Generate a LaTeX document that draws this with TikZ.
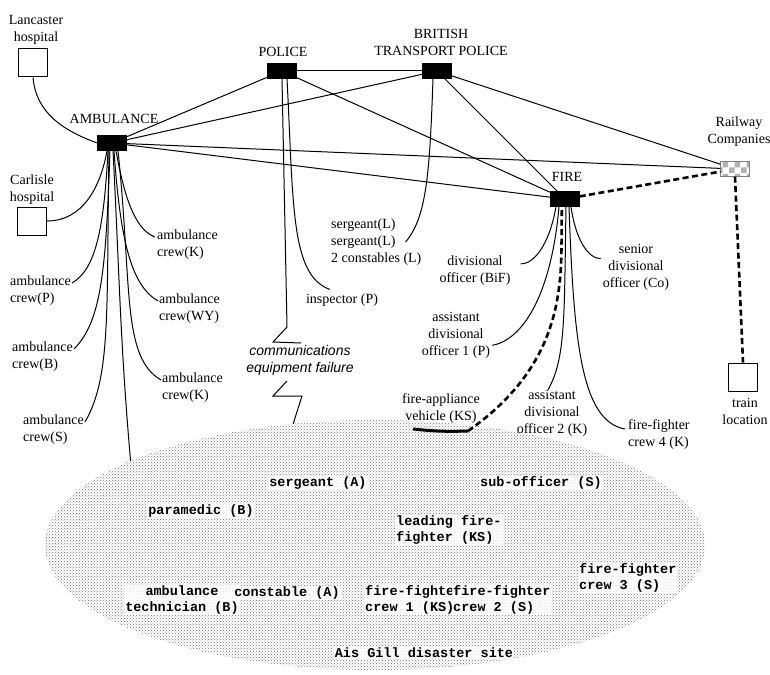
\documentclass[tikz,border=0pt]{standalone}
\usepackage{fontspec}
\setmainfont{Liberation Serif}
\setsansfont{Liberation Sans}
\setmonofont{Liberation Mono}
\usetikzlibrary{patterns,shapes.geometric}

\tikzset{
  agency/.style={draw=black, fill=black, minimum width=29pt, minimum height=15pt, inner sep=0pt},
  place/.style={draw=black, line width=1pt, fill=white, minimum width=29pt, minimum height=28pt, inner sep=0pt},
  lbl/.style={inner sep=0pt, align=center, font=\fontsize{14}{17}\selectfont},
  crew/.style={lbl, align=left, anchor=west},
  sitelbl/.style={inner sep=1pt, align=left, fill=white, fill opacity=0.8, text opacity=1,
    font=\fontsize{13.5}{15.5}\selectfont\ttfamily\bfseries},
  link/.style={line width=1pt},
  hook/.style={link, out looseness=1.5, in looseness=0.5},
  dashlink/.style={line width=2.6pt, dash pattern=on 6pt off 3.5pt},
}

\begin{document}
\begin{tikzpicture}[x=1pt,y=-1pt]
  \useasboundingbox (0,0) rectangle (770,674);

  % disaster site
  \node[ellipse, minimum width=660pt, minimum height=250pt, inner sep=0pt,
        pattern=crosshatch dots, pattern color=black!55] (site) at (375,545) {};

  \node[sitelbl] (sgtA)   at (318,483) {sergeant (A)};
  \node[sitelbl] (subS)   at (541,483) {sub-officer (S)};
  \node[sitelbl] (paraB)  at (201,511) {paramedic (B)};
  \node[sitelbl, anchor=west] (leadKS) at (395,530) {leading fire-\\fighter (KS)};
  \node[sitelbl, anchor=west] (crew3S) at (578,578) {fire-fighter\\crew 3 (S)};
  \node[sitelbl, align=center] (techB) at (182,600) {ambulance\\technician (B)};
  \node[sitelbl] (constA) at (287,593) {constable (A)};
  \node[sitelbl, anchor=west] (crew1KS) at (364,600) {fire-fighter\\crew 1 (KS)};
  \node[sitelbl, anchor=west] (crew2S) at (452,600) {fire-fighter\\crew 2 (S)};
  \node[sitelbl] (aisgill) at (424,653) {Ais Gill disaster site};

  % agencies and places
  \node[place]  (lanc) at (33,63) {};
  \node[lbl]    (lanclbl) at (36,30) {Lancaster\\hospital};
  \node[place]  (carl) at (32,221) {};
  \node[lbl]    (carllbl) at (32,190) {Carlisle\\hospital};
  \node[agency] (amb) at (112,143) {};
  \node[lbl]    (amblbl) at (114,119) {AMBULANCE};
  \node[agency] (pol) at (282,71) {};
  \node[lbl]    (pollbl) at (283,52) {POLICE};
  \node[agency] (btp) at (437,71) {};
  \node[lbl]    (btplbl) at (441,42) {BRITISH\\TRANSPORT POLICE};
  \node[agency] (fire) at (565,199) {};
  \node[lbl]    (firelbl) at (567,177) {FIRE};
  \node[agency, draw=gray, pattern=checkerboard, pattern color=gray!60] (rail) at (735,169) {};
  \node[lbl]    (raillbl) at (739,132) {Railway\\Companies};
  \node[place]  (train) at (743,377) {};
  \node[lbl]    (trainlbl) at (745,411) {train\\location};

  % people
  \node[crew] (ck1) at (157,245) {ambulance\\crew(K)};
  \node[crew] (cp)  at (10,291)  {ambulance\\crew(P)};
  \node[crew] (cwy) at (159,309) {ambulance\\crew(WY)};
  \node[crew] (cb)  at (12,357)  {ambulance\\crew(B)};
  \node[crew] (ck2) at (162,388) {ambulance\\crew(K)};
  \node[crew] (cs)  at (23,430)  {ambulance\\crew(S)};
  \node[lbl]  (insp) at (342,300) {inspector (P)};
  \node[lbl, font=\fontsize{14}{17}\selectfont\sffamily\itshape] (comms) at (300,360) {communications\\equipment failure};
  \node[crew] (bsg) at (331,242) {sergeant(L)\\sergeant(L)\\2 constables (L)};
  \node[lbl]  (fdo) at (475,271) {divisional\\officer (BiF)};
  \node[lbl]  (fsdo) at (636,267) {senior\\divisional\\officer (Co)};
  \node[lbl]  (fado1) at (456,335) {assistant\\divisional\\officer 1 (P)};
  \node[lbl]  (fav) at (441,409) {fire-appliance\\vehicle (KS)};
  \node[lbl]  (fado2) at (552,413) {assistant\\divisional\\officer 2 (K)};
  \node[crew] (fc4) at (628,435) {fire-fighter\\crew 4 (K)};

  % agency links
  \draw[link] (amb) -- (pol);
  \draw[link] (amb) -- (btp);
  \draw[link] (amb) -- (rail);
  \draw[link] (amb) -- (fire);
  \draw[link] (pol) -- (btp);
  \draw[link] (pol) -- (fire);
  \draw[link] (btp) -- (rail);
  \draw[link] (btp) -- (fire);
  \draw[dashlink] (fire) -- (rail);
  \draw[dashlink] (rail.south) -- (train.north);

  % ambulance
  \draw[link] (lanc.south) to[out=-85,in=160] (amb.west);
  \draw[link] (carl.east) to[out=0,in=-100] ([xshift=-5pt]amb.south);
  \draw[hook] ([xshift=4pt]amb.south) to[out=-80,in=160] ([xshift=-2pt,yshift=-7pt]ck1.north west);
  \draw[hook] ([xshift=-4pt]amb.south) to[out=-93,in=30] ([xshift=1pt,yshift=-7pt]cp.north east);
  \draw[hook] ([xshift=2pt]amb.south) to[out=-86,in=150] ([xshift=-1pt,yshift=-7pt]cwy.north west);
  \draw[hook] ([xshift=-2pt]amb.south) to[out=-92,in=45] ([xshift=1pt,yshift=-7pt]cb.north east);
  \draw[hook] ([xshift=6pt]amb.south) to[out=-84,in=150] ([xshift=-1pt,yshift=-7pt]ck2.north west);
  \draw[hook] ([xshift=-3pt]amb.south) to[out=-91,in=60] ([xshift=1pt,yshift=-7pt]cs.north east);
  \draw[link] ([xshift=1pt]amb.south) to[out=-87,in=95] (site.161);

  % police
  \coordinate (brk1) at (287,327);
  \coordinate (brk2) at (287,381);
  \draw[hook] ([xshift=5pt]pol.south) to[out=-87,in=160] ([xshift=24pt,yshift=4pt]insp.north west);
  \draw[link] (pol.south) -- (brk1) -- ++(-14,15) -- ++(28,1);
  \draw[link] (brk2) -- ++(-14,15) -- ++(29,0) -- (site.124);
  \draw[hook] ([xshift=-4pt]btp.south) to[out=-92,in=50] ([xshift=-16pt]bsg.east);

  % fire
  \coordinate (truckL) at (413,429);
  \coordinate (truckR) at (468,431);
  \draw[hook] ([xshift=-9pt]fire.south) to[out=-100,in=0] ([xshift=10pt,yshift=-8pt]fdo.north east);
  \draw[hook] ([xshift=6pt]fire.south) to[out=-82,in=180] ([xshift=-2pt,yshift=-15pt]fsdo.north west);
  \draw[hook] ([xshift=-6pt]fire.south) to[out=-95,in=10] ([xshift=2pt,yshift=13pt]fado1.south east);
  \draw[hook] ([xshift=1pt]fire.south) to[out=-91,in=60] ([xshift=-4pt]fado2.north);
  \draw[hook] ([xshift=4pt]fire.south) to[out=-88,in=170] ([xshift=-3pt,yshift=6pt]fc4.west);
  \draw[line width=3pt] (truckL) to[bend right=4] (truckR);
  \draw[dashlink, out looseness=1.4, in looseness=0.6] (truckR) to[out=35,in=-93] ([xshift=-3pt]fire.south);

\end{tikzpicture}
\end{document}
